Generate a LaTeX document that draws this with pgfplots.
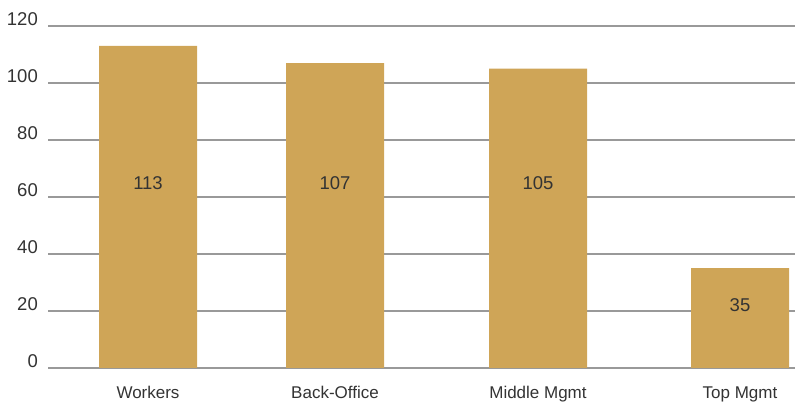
\documentclass[border=0pt]{standalone}
\usepackage{pgfplots}
\pgfplotsset{compat=1.18}
\usepackage{fontspec}
\setmainfont{Liberation Sans}
\definecolor{bargold}{HTML}{CFA557}
\definecolor{gridgray}{HTML}{999999}
\definecolor{txt}{HTML}{333333}
\begin{document}
\begin{tikzpicture}
\path[use as bounding box] (0,0) rectangle (795pt,403pt);
\begin{axis}[
  at={(48pt,35pt)}, anchor=south west,
  scale only axis, width=747pt, height=342pt,
  xmin=48, xmax=795, ymin=0, ymax=120,
  axis line style={draw=none},
  ytick={0,20,...,120},
  ymajorgrids, major grid style={gridgray, line width=1.2pt},
  major tick length=0pt,
  xtick={148,335,538,740},
  xticklabels={Workers,Back-Office,Middle Mgmt,Top Mgmt},
  /pgf/number format/assume math mode=true,
  xticklabel style={font=\fontsize{17}{20}\selectfont, text=txt, anchor=base, inner sep=0pt, yshift=-31pt},
  yticklabel style={font=\fontsize{18.5}{21}\selectfont, text=txt, anchor=base east, inner sep=0pt, xshift=-10pt},
  clip=false,
]
\addplot[ybar, bar width=98, fill=bargold, draw=none] coordinates {(148,113) (335,107) (538,105) (740,35)};
\addplot[draw=none, mark=none, nodes near coords, point meta=explicit symbolic,
  every node near coord/.style={anchor=center, font=\fontsize{18.5}{21}\selectfont, text=txt}]
  coordinates {(148,64.9)[113] (335,64.9)[107] (538,64.9)[105] (740,22.1)[35]};
\end{axis}
\end{tikzpicture}
\end{document}
